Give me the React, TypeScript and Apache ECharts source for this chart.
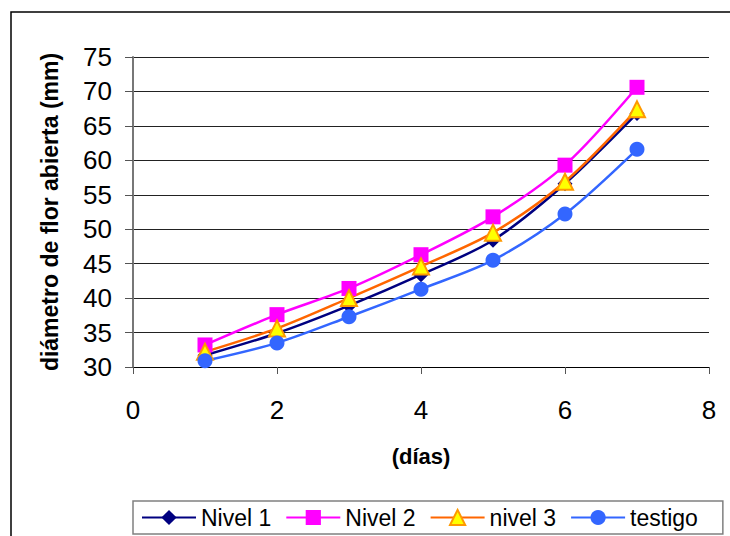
import React, { useEffect, useRef } from "react";
import * as echarts from "echarts";

const days = [1, 2, 3, 4, 5, 6, 7];
const nivel1 = [31.7, 34.9, 38.9, 43.4, 48.4, 56.6, 66.8];
const nivel2 = [33.2, 37.6, 41.4, 46.3, 51.8, 59.3, 70.6];
const nivel3 = [32.2, 35.6, 40.0, 44.6, 49.5, 56.9, 67.4];
const testigo = [30.9, 33.5, 37.3, 41.3, 45.5, 52.2, 61.6];
const seriesNames = ["Nivel 1", "Nivel 2", "nivel 3", "testigo"];
const yAxisName = "diámetro de flor abierta (mm)";
const xAxisName = "(días)";

const FONT = "Liberation Sans, Arial, sans-serif";

export default function App() {
  const ref = useRef<HTMLDivElement>(null);
  useEffect(() => {
    const chart = echarts.init(ref.current!, null, { renderer: "svg" });
    const pts = (vals: number[]) => days.map((d, i) => [d, vals[i]]);
    chart.setOption({
      animation: false,
      backgroundColor: "#ffffff",
      textStyle: { fontFamily: FONT },
      graphic: [
        {
          type: "rect",
          shape: { x: 11, y: 12, width: 800, height: 600 },
          style: { fill: "none", stroke: "#000", lineWidth: 1.5 },
          silent: true,
        },
      ],
      grid: { left: 133, right: 21, top: 57, bottom: 169 },
      xAxis: {
        type: "value",
        min: 0,
        max: 8,
        interval: 2,
        name: xAxisName,
        nameLocation: "middle",
        nameGap: 78,
        nameTextStyle: { fontSize: 22, fontWeight: "bold", color: "#000", fontFamily: FONT },
        axisLine: { lineStyle: { color: "#000", width: 1 } },
        axisTick: { show: true, inside: false, length: 7, lineStyle: { color: "#555" } },
        axisLabel: { fontSize: 26, color: "#000", margin: 30, fontFamily: FONT },
        splitLine: { show: false },
      },
      yAxis: {
        type: "value",
        min: 30,
        max: 75,
        interval: 5,
        name: yAxisName,
        nameLocation: "middle",
        nameGap: 72,
        nameRotate: 90,
        nameTextStyle: {
          fontSize: 23,
          fontWeight: "bold",
          color: "#000",
          fontFamily: FONT,
        },
        axisLine: { show: true, lineStyle: { color: "#777", width: 2 } },
        axisTick: { show: true, inside: false, length: 8, lineStyle: { color: "#555" } },
        axisLabel: { fontSize: 26, color: "#000", margin: 21, fontFamily: FONT },
        splitLine: { show: true, lineStyle: { color: "#222", width: 1 } },
      },
      legend: {
        left: 133,
        bottom: 2,
        itemWidth: 54,
        itemHeight: 19,
        itemGap: 14,
        padding: [5, 25, 5, 8],
        borderColor: "#808080",
        borderWidth: 1.5,
        textStyle: { fontSize: 23, color: "#000", fontFamily: FONT },
        data: seriesNames,
      },
      series: [
        {
          name: seriesNames[0],
          type: "line",
          smooth: 0.3,
          data: pts(nivel1),
          symbol: "diamond",
          symbolSize: 15,
          lineStyle: { color: "#000080", width: 2.5 },
          itemStyle: { color: "#000080" },
        },
        {
          name: seriesNames[1],
          type: "line",
          smooth: 0.3,
          data: pts(nivel2),
          symbol: "rect",
          symbolSize: 15,
          lineStyle: { color: "#ff00ff", width: 2.5 },
          itemStyle: { color: "#ff00ff" },
        },
        {
          name: seriesNames[2],
          type: "line",
          smooth: 0.3,
          data: pts(nivel3),
          symbol: "triangle",
          symbolSize: 16,
          lineStyle: { color: "#ff6600", width: 2.5 },
          itemStyle: { color: "#ffff00", borderColor: "#ff9900", borderWidth: 2 },
        },
        {
          name: seriesNames[3],
          type: "line",
          smooth: 0.3,
          data: pts(testigo),
          symbol: "circle",
          symbolSize: 15,
          lineStyle: { color: "#3366ff", width: 2.5 },
          itemStyle: { color: "#3366ff" },
        },
      ],
    });
    return () => chart.dispose();
  }, []);
  return (
    <div
      ref={ref}
      style={{ position: "absolute", left: 0, top: 0, width: 730, height: 536 }}
    />
  );
}
